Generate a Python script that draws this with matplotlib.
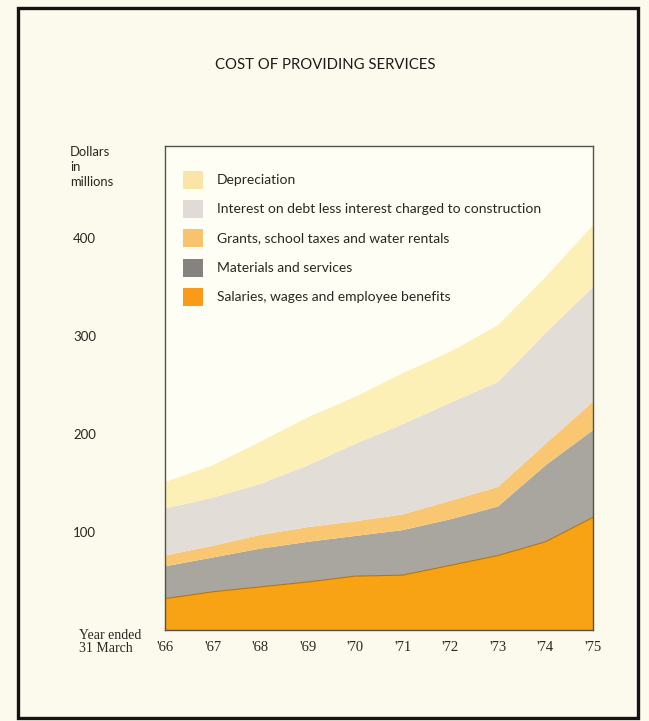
import matplotlib
matplotlib.use("Agg")
import matplotlib.pyplot as plt
from matplotlib.patches import Rectangle

# Fiscal years ended 31 March
years = ["'66", "'67", "'68", "'69", "'70", "'71", "'72", "'73", "'74", "'75"]

# Component costs, dollars in millions (stacked bottom to top)
salaries = [32, 39, 44, 49, 55, 56, 66, 76, 90, 115]
materials = [33, 35, 39, 41, 41, 46, 47, 50, 78, 89]
grants = [11, 12, 14, 15, 15, 16, 19, 20, 22, 29]
interest = [48, 49, 52, 63, 79, 92, 100, 107, 113, 117]
depreciation = [27, 33, 43, 49, 48, 52, 52, 58, 57, 63]

series_labels = [
    "Salaries, wages and employee benefits",
    "Materials and services",
    "Grants, school taxes and water rentals",
    "Interest on debt less interest charged to construction",
    "Depreciation",
]
fill_colors = ["#f8a314", "#a9a6a0", "#f9c772", "#e3ddd8", "#fcf0b6"]
swatch_colors = ["#f99a18", "#85827f", "#f9c26e", "#e2dad6", "#fae5a6"]

y_ticks = [100, 200, 300, 400]

BG = "#fbfaec"
PLOT_BG = "#fefef5"
TEXT = "#2b2622"

fig = plt.figure(figsize=(6.49, 7.21), dpi=100, facecolor=BG)
ax = fig.add_axes([0.2542, 0.1262, 0.6595, 0.6713])
ax.set_facecolor(PLOT_BG)

x = list(range(len(years)))
ax.stackplot(x, salaries, materials, grants, interest, depreciation,
             colors=fill_colors, linewidth=0)

# thin darker edge along the top of the salaries band
ax.plot(x, salaries, color="#b8740a", linewidth=0.8)

ax.set_xlim(0, len(years) - 1)
ax.set_ylim(0, 494)

for s in ax.spines.values():
    s.set_color("#55524e")
    s.set_linewidth(1.0)

ax.set_xticks(x)
ax.set_xticklabels(years, family="Liberation Serif", fontsize=10.5, color=TEXT)
ax.tick_params(axis="x", length=0, pad=8)

ax.set_yticks(y_ticks)
ax.set_yticklabels([str(v) for v in y_ticks], family="Lato", fontsize=9.5,
                   color=TEXT, ha="left")
ax.tick_params(axis="y", length=0, pad=66)

# legend drawn as swatches and labels inside the plot
legend_rows = [0.930, 0.870, 0.810, 0.748, 0.688]
order = [4, 3, 2, 1, 0]
for yy, idx in zip(legend_rows, order):
    ax.add_patch(Rectangle((0.042, yy - 0.019), 0.047, 0.038,
                           transform=ax.transAxes, facecolor=swatch_colors[idx],
                           edgecolor="none"))
    ax.text(0.1215, yy, series_labels[idx], transform=ax.transAxes,
            family="Lato", fontsize=10.0, color=TEXT, va="center", ha="left")

fig.text(0.501, 0.910, "COST OF PROVIDING SERVICES", family="Lato",
         fontsize=10.7, color="#1e1a18", ha="center", va="center")
fig.text(0.108, 0.797, "Dollars\nin\nmillions", family="Lato", fontsize=9.4,
         color=TEXT, ha="left", va="top", linespacing=1.3)
fig.text(0.121, 0.1095, "Year ended\n31 March", family="Liberation Serif",
         fontsize=10, color=TEXT, ha="left", va="center", linespacing=0.95)

# outer frame
fig.add_artist(Rectangle((0.0285, 0.004), 0.955, 0.9845,
                         transform=fig.transFigure, facecolor="none",
                         edgecolor="#141212", linewidth=2.4))

fig.savefig("out.png", dpi=100, facecolor=BG)
